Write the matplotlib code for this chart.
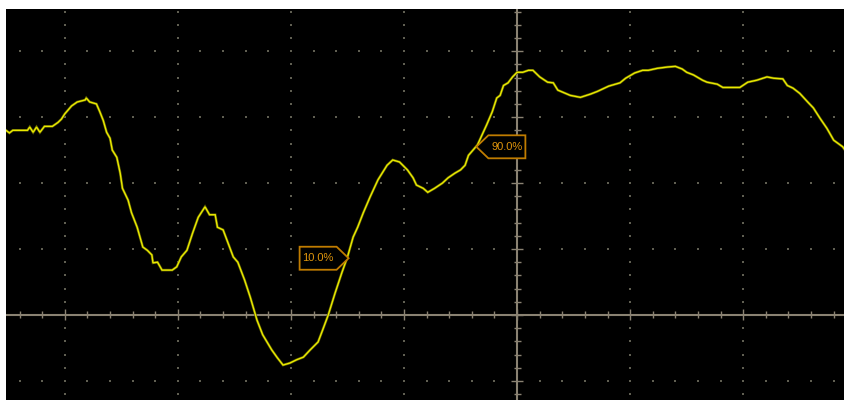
"""
Oscilloscope capture: single channel trace with 10% / 90% rise markers.
Units are screen divisions (1 div horizontal, 1 div vertical).
"""

import numpy as np
import matplotlib
matplotlib.use("Agg")
import matplotlib.pyplot as plt
from matplotlib.patches import Polygon

# ─────────────────────────────────────────────────────────────────────────────
# Data (in divisions)
# ─────────────────────────────────────────────────────────────────────────────
t_div = [
    -4.52, -4.49, -4.46, -4.33, -4.31, -4.28, -4.25, -4.22, -4.18, -4.11,
    -4.06, -4.03, -4.00, -3.94, -3.89, -3.82, -3.81, -3.78, -3.72, -3.69,
    -3.66, -3.63, -3.60, -3.58, -3.54, -3.51, -3.49, -3.44, -3.41, -3.36,
    -3.31, -3.27, -3.23, -3.22, -3.18, -3.14, -3.10, -3.05, -3.01, -2.97,
    -2.92, -2.87, -2.82, -2.76, -2.72, -2.67, -2.65, -2.60, -2.51, -2.47,
    -2.41, -2.36, -2.30, -2.25, -2.17, -2.12, -2.07, -2.01, -1.95, -1.89,
    -1.83, -1.76, -1.72, -1.67, -1.61, -1.55, -1.50, -1.45, -1.41, -1.36,
    -1.30, -1.23, -1.15, -1.10, -1.04, -0.97, -0.92, -0.89, -0.83, -0.79,
    -0.73, -0.66, -0.61, -0.55, -0.50, -0.46, -0.43, -0.39, -0.35, -0.31,
    -0.27, -0.22, -0.18, -0.15, -0.12, -0.08, -0.04, 0.00, 0.05, 0.10,
    0.14, 0.20, 0.27, 0.32, 0.36, 0.47, 0.56, 0.65, 0.71, 0.81,
    0.91, 0.96, 1.04, 1.11, 1.16, 1.24, 1.33, 1.40, 1.46, 1.50,
    1.56, 1.64, 1.68, 1.77, 1.82, 1.91, 1.97, 2.04, 2.12, 2.21,
    2.27, 2.35, 2.39, 2.44, 2.50, 2.57, 2.62, 2.68, 2.74, 2.80,
    2.88, 2.90,
]
v_div = [
    2.80, 2.76, 2.80, 2.80, 2.85, 2.77, 2.85, 2.77, 2.86, 2.86,
    2.92, 2.97, 3.05, 3.17, 3.23, 3.26, 3.29, 3.23, 3.20, 3.08,
    2.95, 2.77, 2.68, 2.50, 2.39, 2.15, 1.92, 1.74, 1.55, 1.33,
    1.03, 0.98, 0.91, 0.79, 0.80, 0.68, 0.68, 0.68, 0.73, 0.88,
    0.98, 1.24, 1.48, 1.64, 1.52, 1.52, 1.33, 1.29, 0.88, 0.80,
    0.53, 0.27, -0.08, -0.30, -0.53, -0.65, -0.76, -0.73, -0.68, -0.64,
    -0.53, -0.41, -0.23, 0.00, 0.33, 0.64, 0.88, 1.18, 1.33, 1.55,
    1.79, 2.05, 2.27, 2.35, 2.32, 2.20, 2.08, 1.97, 1.92, 1.86,
    1.92, 2.00, 2.08, 2.15, 2.20, 2.27, 2.42, 2.50, 2.58, 2.73,
    2.88, 3.08, 3.29, 3.33, 3.48, 3.52, 3.61, 3.68, 3.68, 3.71,
    3.71, 3.61, 3.53, 3.52, 3.41, 3.33, 3.30, 3.35, 3.39, 3.47,
    3.52, 3.59, 3.67, 3.71, 3.71, 3.74, 3.76, 3.77, 3.73, 3.68,
    3.64, 3.56, 3.53, 3.50, 3.45, 3.45, 3.45, 3.53, 3.56, 3.61,
    3.59, 3.58, 3.48, 3.44, 3.36, 3.23, 3.14, 2.98, 2.83, 2.65,
    2.55, 2.50,
]

# rise-time markers
marker_labels = ["10.0%", "90.0%"]
marker_t = [-1.49, -0.36]
marker_v = [0.86, 2.55]
marker_side = ["left", "right"]

# ─────────────────────────────────────────────────────────────────────────────
# Style
# ─────────────────────────────────────────────────────────────────────────────
W_PX, H_PX, DPI = 845, 400, 100
XLIM = (-4.52, 2.90)
YLIM = (-1.29, 4.64)
AX_RECT = [6 / W_PX, 0.0, 839 / W_PX, 391 / H_PX]

TRACE = "#eaea00"
GLOW = "#5e5e00"
AXIS = "#8a8272"
DOT = "#605f52"
TAG = "#c07c00"
TAG_TEXT = "#e0960c"

# divisions per pixel
PX_X = (XLIM[1] - XLIM[0]) / (AX_RECT[2] * W_PX)
PX_Y = (YLIM[1] - YLIM[0]) / (AX_RECT[3] * H_PX)


def draw_graticule(ax):
    minor_x = np.arange(-25, 16) / 5.0
    minor_y = np.arange(-7, 24) / 5.0
    major_x = [v for v in range(-4, 3) if v != 0]
    major_y = [v for v in range(-1, 5) if v != 0]

    # dotted major lines
    for gx in major_x:
        ax.scatter(np.full(len(minor_y), gx), minor_y, s=0.8, marker="s",
                   color=DOT, linewidths=0, zorder=1)
    for gy in major_y:
        ax.scatter(minor_x, np.full(len(minor_x), gy), s=0.8, marker="s",
                   color=DOT, linewidths=0, zorder=1)

    # centre cross with ticks
    ax.axhline(0, color=AXIS, lw=1.5, zorder=2)
    ax.axvline(0, color=AXIS, lw=1.5, zorder=2)
    for x in minor_x:
        big = abs(x - round(x)) < 1e-6
        h = (5.5 if big else 3.5) * PX_Y
        ax.vlines(x, -h, h, color=AXIS, lw=1.0, zorder=2)
    for y in minor_y:
        big = abs(y - round(y)) < 1e-6
        w = (6.0 if big else 3.5) * PX_X
        ax.hlines(y, -w, w, color=AXIS, lw=1.0, zorder=2)


def draw_tag(ax, x, y, text, side):
    # pentagon tag with its tip on the trace
    tip, depth, half = 12, 49, 11.5
    s = -1 if side == "left" else 1
    pts = [(0, 0), (s * tip, half), (s * depth, half),
           (s * depth, -half), (s * tip, -half)]
    verts = [(x + px * PX_X, y + py * PX_Y) for px, py in pts]
    ax.add_patch(Polygon(verts, closed=True, facecolor="black",
                         edgecolor=TAG, lw=1.3, zorder=4))
    cx = x + s * (tip + depth) / 2 * PX_X
    ax.text(cx, y, text, color=TAG_TEXT, fontsize=8,
            family=["Liberation Sans", "DejaVu Sans"],
            ha="center", va="center", zorder=5)


# ─────────────────────────────────────────────────────────────────────────────
# Figure
# ─────────────────────────────────────────────────────────────────────────────
fig = plt.figure(figsize=(W_PX / DPI, H_PX / DPI), dpi=DPI, facecolor="white")
ax = fig.add_axes(AX_RECT)
ax.set_facecolor("black")
ax.set_xlim(*XLIM)
ax.set_ylim(*YLIM)
ax.set_xticks([])
ax.set_yticks([])
for sp in ax.spines.values():
    sp.set_visible(False)

draw_graticule(ax)

ax.plot(t_div, v_div, color=GLOW, lw=1.9, zorder=3, solid_joinstyle="miter")
ax.plot(t_div, v_div, color=TRACE, lw=1.0, zorder=3, solid_joinstyle="miter")

for lab, mt, mv, side in zip(marker_labels, marker_t, marker_v, marker_side):
    draw_tag(ax, mt, mv, lab, side)

fig.savefig("out.png", dpi=DPI, facecolor="white")
